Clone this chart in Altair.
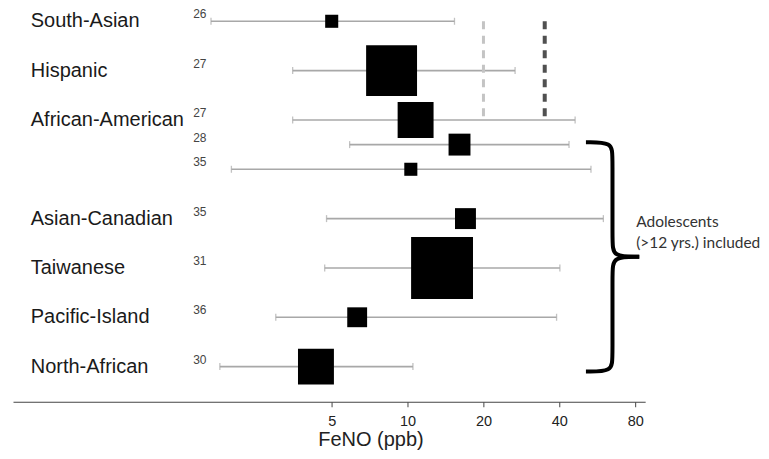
import altair as alt
import pandas as pd

# ---- data ----
row_pos = [0, 1, 2, 2.5, 3, 4, 5, 6, 7]
labels = ["South-Asian", "Hispanic", "African-American", "", "",
          "Asian-Canadian", "Taiwanese", "Pacific-Island", "North-African"]
n_vals = ["26", "27", "27", "28", "35", "35", "31", "36", "30"]
estimate = [5.0, 8.64, 10.76, 16.07, 10.3, 16.97, 13.7, 6.31, 4.33]
ci_low = [1.66, 3.5, 3.5, 5.89, 2.0, 4.77, 4.69, 3.0, 1.80]
ci_high = [15.35, 26.7, 46.2, 43.7, 53.4, 59.8, 40.2, 39.0, 10.5]
weight = [1.6, 24.3, 12.1, 4.5, 1.6, 4.1, 35.9, 3.7, 12.1]
adolescents = [False, False, False, True, True, True, True, True, True]

ref_values = [20, 35]
ref_colors = ["#c4c4c4", "#505050"]
tick_values = [5, 10, 20, 40, 80]
annotation = "Adolescents\n(>12 yrs.) included"

df = pd.DataFrame({
    "row": row_pos, "label": labels, "n": n_vals, "est": estimate,
    "lo": ci_low, "hi": ci_high, "weight": weight, "adol": adolescents,
})

FONT = "Liberation Sans"
xscale = alt.Scale(type="log", domain=[0.272, 87.6], nice=False)
yscale = alt.Scale(domain=[-0.162, 7.713], reverse=True, nice=False, zero=False)

base = alt.Chart(df)

x_axis = alt.Axis(values=tick_values, format="d", grid=False, domainColor="#444",
                  tickColor="#444", tickSize=5, labelFontSize=14.5, labelColor="#222",
                  labelFont=FONT, labelPadding=8, title="FeNO (ppb)", titleFont=FONT,
                  titleFontSize=20, titleFontWeight="normal", titleColor="#222",
                  titleX=358, titleY=28, titleAlign="center", titleBaseline="top",
                  domainWidth=1.2)

whisk = base.mark_rule(color="#a8a8a8", strokeWidth=1.6).encode(
    x=alt.X("lo:Q", scale=xscale, axis=x_axis),
    x2="hi:Q",
    y=alt.Y("row:Q", scale=yscale, axis=None),
)
cap_lo = base.mark_tick(orient="vertical", size=7, thickness=1.3, color="#a8a8a8").encode(
    x=alt.X("lo:Q", scale=xscale), y=alt.Y("row:Q", scale=yscale))
cap_hi = base.mark_tick(orient="vertical", size=7, thickness=1.3, color="#a8a8a8").encode(
    x=alt.X("hi:Q", scale=xscale), y=alt.Y("row:Q", scale=yscale))

squares = base.mark_square(filled=True, color="black", opacity=1).encode(
    x=alt.X("est:Q", scale=xscale),
    y=alt.Y("row:Q", scale=yscale),
    size=alt.Size("weight:Q", scale=alt.Scale(domain=[0, 100], range=[0, 10700]), legend=None),
)

# dashed reference lines spanning the first three rows
ref_df = pd.DataFrame({"v": ref_values, "c": ref_colors,
                       "y1": [row_pos[0]] * 2, "y2": [row_pos[2] - 0.03] * 2,
                       "w": [3, 4]})
refs = alt.Chart(ref_df).mark_rule(strokeDash=[8, 6.5], strokeCap="butt").encode(
    x=alt.X("v:Q", scale=xscale),
    y=alt.Y("y1:Q", scale=yscale),
    y2="y2:Q",
    color=alt.Color("c:N", scale=None),
    strokeWidth=alt.StrokeWidth("w:Q", scale=None),
)

row_labels = base.mark_text(align="left", baseline="middle", fontSize=20, font=FONT,
                            color="#1a1a1a").encode(
    x=alt.datum(0.32, scale=xscale), y=alt.Y("row:Q", scale=yscale), text="label:N")

n_labels = base.mark_text(align="left", baseline="middle", fontSize=12, font=FONT,
                          color="#444", dy=-7).encode(
    x=alt.datum(1.41, scale=xscale), y=alt.Y("row:Q", scale=yscale), text="n:N")

# curly brace around the adolescent rows
grp = df[df["adol"]]
top = grp["row"].min() - 0.05
bot = grp["row"].max() + 0.1
mid = (top + bot) / 2
xs, xsp, xt = 51.0, 65.0, 83.0
brace_pts = []
for half, (a, b) in enumerate([(top, 1), (bot, -1)]):
    pts = [(xs, a), (xsp, a), (xsp, a + b * 0.28), (xsp, mid - b * 0.3),
           (xsp, mid), (xt, mid)]
    for i, (px, py) in enumerate(pts):
        brace_pts.append({"x": px, "y": py, "half": half, "i": i})
brace_df = pd.DataFrame(brace_pts)
brace = alt.Chart(brace_df).mark_line(interpolate="basis", color="black", strokeWidth=4,
                                      strokeCap="butt").encode(
    x=alt.X("x:Q", scale=xscale), y=alt.Y("y:Q", scale=yscale),
    detail="half:N", order="i:Q")

note = alt.Chart(pd.DataFrame({"t": [annotation]})).mark_text(
    align="left", baseline="middle", lineBreak="\n", lineHeight=21.6, fontSize=15.5,
    font="Lato", color="#333").encode(
    x=alt.datum(80.7, scale=xscale), y=alt.datum(mid - 0.712, scale=yscale), text="t:N")

chart = alt.layer(whisk, cap_lo, cap_hi, refs, squares, row_labels, n_labels, brace, note).properties(
    width=633, height=389, padding={"left": 5, "top": 0, "right": 0, "bottom": 0}
).configure_view(stroke=None).configure_axis(domainColor="#444")

chart.save("out.html", embed_options={"renderer": "svg", "actions": False})
